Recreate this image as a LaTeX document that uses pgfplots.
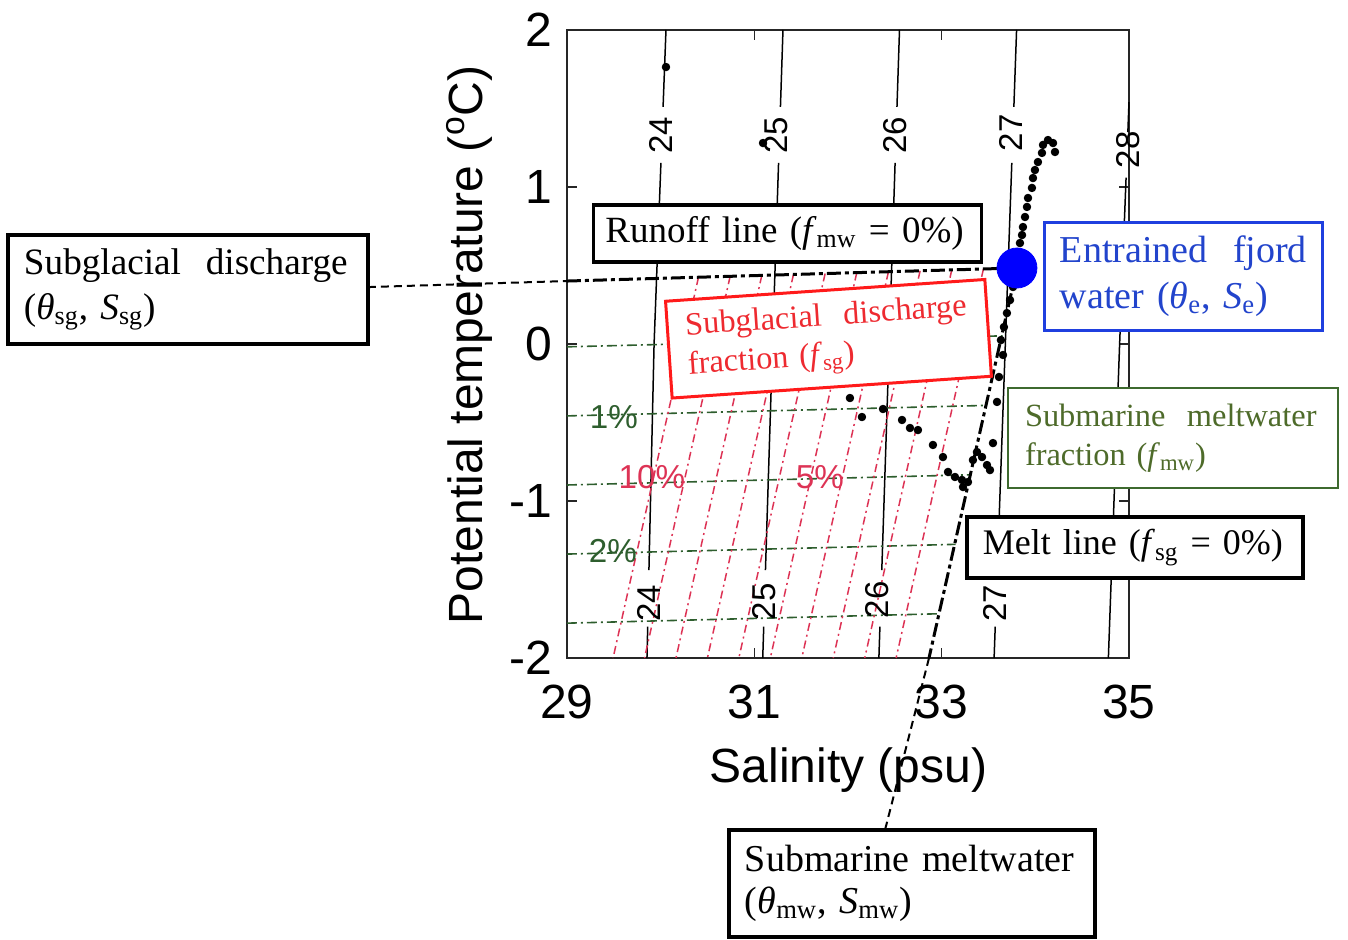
\documentclass[border=0pt]{standalone}
\usepackage{fontspec}
\setmainfont{Liberation Serif}
\setsansfont{Liberation Sans}
\usepackage{pgfplots}
\pgfplotsset{compat=1.18}
\definecolor{grn}{HTML}{2E5E2E}
\definecolor{grnbox}{HTML}{3E6A2F}
\definecolor{grntxt}{HTML}{4E6B2A}
\definecolor{redln}{HTML}{DD3355}
\definecolor{redbox}{HTML}{FF1A1A}
\definecolor{redtxt}{HTML}{EE2A30}
\definecolor{bluebox}{HTML}{1F3FDF}
\definecolor{bluetxt}{HTML}{2244CC}
\pgfplotsset{
 iso/.style={black, line width=0.75pt},
 gl/.style={grn, line width=0.8pt, dash pattern=on 5pt off 2pt on 1pt off 2pt},
 rl/.style={redln, line width=0.75pt, dash pattern=on 4pt off 2pt on 1pt off 2pt},
}
\tikzset{
 isol/.style={font=\sffamily\fontsize{16.5}{18}\selectfont, rotate=90, inner sep=0pt},
 pctl/.style={font=\sffamily\fontsize{16.6}{18}\selectfont, inner sep=0pt},
}
\begin{document}
\begin{tikzpicture}
\begin{axis}[
 width=281pt, height=314pt, scale only axis,
 xmin=29, xmax=35, ymin=-2, ymax=2,
 xtick={29,31,33,35}, xticklabels={29,31,33,35},
 ytick={-2,-1,0,1,2}, yticklabels={-2,-1,0,1,2},
 clip=false,
 axis line style={line width=0.9pt, black!85},
 major tick length=5pt,
 tick style={line width=0.8pt, black!85},
 tick align=inside,
 ticklabel style={font=\sffamily\fontsize{24}{28}\selectfont},
 xticklabel style={yshift=-10pt},
 yticklabel style={xshift=-4pt},
]
% bounding frame
\path (axis cs:22.947,2.191) rectangle (axis cs:37.338,-3.796);
% isopycnals
\addplot[iso] coordinates {(29.854,-2) (29.862,-1.80)};
\addplot[iso] coordinates {(29.875,-1.44) (29.93,0) (30.003,1.153)};
\addplot[iso] coordinates {(30.026,1.51) (30.057,2)};
\addplot[iso] coordinates {(31.09,-2) (31.1005,-1.80)};
\addplot[iso] coordinates {(31.119,-1.44) (31.195,0) (31.259,1.153)};
\addplot[iso] coordinates {(31.279,1.51) (31.306,2)};
\addplot[iso] coordinates {(32.33,-2) (32.341,-1.80)};
\addplot[iso] coordinates {(32.361,-1.44) (32.44,0) (32.503,1.153)};
\addplot[iso] coordinates {(32.523,1.51) (32.55,2)};
\addplot[iso] coordinates {(33.56,-2) (33.572,-1.80)};
\addplot[iso] coordinates {(33.594,-1.44) (33.68,0) (33.749,1.153)};
\addplot[iso] coordinates {(33.771,1.51) (33.80,2)};
\addplot[iso] coordinates {(34.78,-2) (34.90,0) (34.969,1.06)};
\addplot[iso] coordinates {(34.988,1.35) (35,1.54)};
% meltwater fraction lines
\addplot[gl] coordinates {(29,-0.018) (33.652,0.052)};
\addplot[gl] coordinates {(29,-0.458) (33.485,-0.391)};
\addplot[gl] coordinates {(29,-0.898) (33.317,-0.833)};
\addplot[gl] coordinates {(29,-1.338) (33.150,-1.276)};
\addplot[gl] coordinates {(29,-1.778) (32.982,-1.718)};
% subglacial discharge fraction lines
\addplot[rl] coordinates {(33.446,0.4778) (32.514,-2)};
\addplot[rl] coordinates {(33.108,0.4720) (32.179,-2)};
\addplot[rl] coordinates {(32.770,0.4661) (31.843,-2)};
\addplot[rl] coordinates {(32.432,0.4603) (31.507,-2)};
\addplot[rl] coordinates {(32.094,0.4545) (31.171,-2)};
\addplot[rl] coordinates {(31.756,0.4486) (30.835,-2)};
\addplot[rl] coordinates {(31.418,0.4428) (30.4995,-2)};
\addplot[rl] coordinates {(31.080,0.4369) (30.1637,-2)};
\addplot[rl] coordinates {(30.742,0.4311) (29.828,-2)};
\addplot[rl] coordinates {(30.404,0.4253) (29.492,-2)};
% runoff and melt lines
\addplot[black, line width=1.5pt, dash pattern=on 7pt off 2pt on 2pt off 2pt] coordinates {(29,0.401) (33.804,0.484)};
\addplot[black, line width=1.5pt, dash pattern=on 7pt off 2pt on 2pt off 2pt] coordinates {(33.804,0.484) (32.865,-2)};
\draw[black, line width=1pt, dash pattern=on 4pt off 2.5pt] (axis cs:26.875,0.3625) -- (axis cs:29,0.401);
\draw[black, line width=1pt, dash pattern=on 4pt off 2.5pt] (axis cs:32.865,-2) -- (axis cs:32.395,-3.096);
% CTD profile
\addplot[only marks, mark=*, mark size=1.9pt, black] coordinates {
(30.057,1.764) (31.093,1.280)
(34.210,1.223) (34.189,1.280) (34.135,1.299) (34.082,1.268) (34.071,1.217)
(34.028,1.159) (33.996,1.108) (33.975,1.057) (33.964,0.994) (33.922,0.930)
(33.911,0.873) (33.890,0.809) (33.868,0.745) (33.858,0.694) (33.836,0.643)
(33.815,0.586) (33.794,0.484) (33.762,0.363) (33.730,0.280) (33.697,0.197)
(33.665,0.108) (33.633,0.025) (33.655,-0.070) (33.612,-0.210) (33.591,-0.369)
(33.548,-0.631)
(32.021,-0.344) (32.149,-0.465) (32.374,-0.414) (32.577,-0.484) (32.662,-0.535)
(32.747,-0.548) (32.907,-0.643) (33.014,-0.720) (33.068,-0.815) (33.142,-0.847)
(33.217,-0.866) (33.228,-0.911) (33.281,-0.879) (33.334,-0.739) (33.377,-0.688)
(33.431,-0.720) (33.484,-0.771) (33.516,-0.803)
};
% entrained fjord water
\addplot[only marks, mark=*, mark size=10pt, color=blue] coordinates {(33.804,0.484)};
% labels
\node[isol] at (axis cs:30.004,1.331) {24};
\node[isol] at (axis cs:31.231,1.331) {25};
\node[isol] at (axis cs:32.50,1.331) {26};
\node[isol] at (axis cs:33.74,1.344) {27};
\node[isol] at (axis cs:34.99,1.236) {28};
\node[isol] at (axis cs:29.875,-1.65) {24};
\node[isol] at (axis cs:31.103,-1.643) {25};
\node[isol] at (axis cs:32.31,-1.63) {26};
\node[isol] at (axis cs:33.57,-1.65) {27};
\node[pctl, text=grn] at (axis cs:29.50,-0.465) {1\%};
\node[pctl, text=grn] at (axis cs:29.49,-1.318) {2\%};
\node[pctl, text=redln] at (axis cs:29.907,-0.847) {10\%};
\node[pctl, text=redln] at (axis cs:31.70,-0.847) {5\%};
% axis labels
\node[font=\sffamily\fontsize{24}{28}\selectfont, anchor=base] at (axis cs:32.005,-2.79) {Salinity (psu)};
\node[font=\sffamily\fontsize{24}{28}\selectfont, rotate=90, anchor=base] at (axis cs:28.103,-0.006) {Potential temperature (\textsuperscript{o}C)};
% boxes
\node[draw=black, line width=1.8pt, fill=white, text width=182pt, inner xsep=6pt, minimum height=28.5pt, align=left, font=\fontsize{18.5}{22}\selectfont] at (axis cs:31.354,0.704) {Runoff line (\textit{f}\textsubscript{mw}~=~0\%)};
\node[draw=redbox, line width=1.5pt, fill=white, text=redtxt, rotate=3.9, text width=142pt, inner xsep=9pt, minimum height=48.5pt, align=left, font=\fontsize{16.2}{19.5}\selectfont] at (axis cs:31.792,0.0334) {Subglacial~~discharge\\fraction (\textit{f}\textsubscript{sg})};
\node[draw=bluebox, line width=1.5pt, fill=white, text=bluetxt, text width=124pt, inner xsep=7.5pt, minimum height=54pt, align=left, font=\fontsize{19}{23}\selectfont] at (axis cs:35.587,0.433) {Entrained~~fjord\\water ({\itshape θ}\textsubscript{e}, {\itshape S}\textsubscript{e})};
\node[draw=grnbox, line width=1.4pt, fill=white, text=grntxt, text width=148pt, inner xsep=8.5pt, minimum height=50pt, align=left, font=\fontsize{16.2}{19.5}\selectfont] at (axis cs:35.470,-0.599) {Submarine~~meltwater\\fraction (\textit{f}\textsubscript{mw})};
\node[draw=black, line width=1.8pt, fill=white, text width=152pt, inner xsep=8pt, minimum height=30.5pt, align=left, font=\fontsize{18}{21}\selectfont] at (axis cs:35.064,-1.296) {Melt line (\textit{f}\textsubscript{sg}~=~0\%)};
\node[draw=black, line width=1.8pt, fill=white, text width=164pt, inner xsep=8pt, minimum height=54.5pt, align=left, font=\fontsize{18.6}{22.5}\selectfont] at (axis cs:24.954,0.347) {Subglacial~~discharge\\({\itshape θ}\textsubscript{sg}, {\itshape S}\textsubscript{sg})};
\node[draw=black, line width=1.8pt, fill=white, text width=167pt, inner xsep=8pt, minimum height=53.5pt, align=left, font=\fontsize{19}{21}\selectfont] at (axis cs:32.683,-3.437) {Submarine meltwater\\({\itshape θ}\textsubscript{mw}, {\itshape S}\textsubscript{mw})};
\end{axis}
\end{tikzpicture}
\end{document}
